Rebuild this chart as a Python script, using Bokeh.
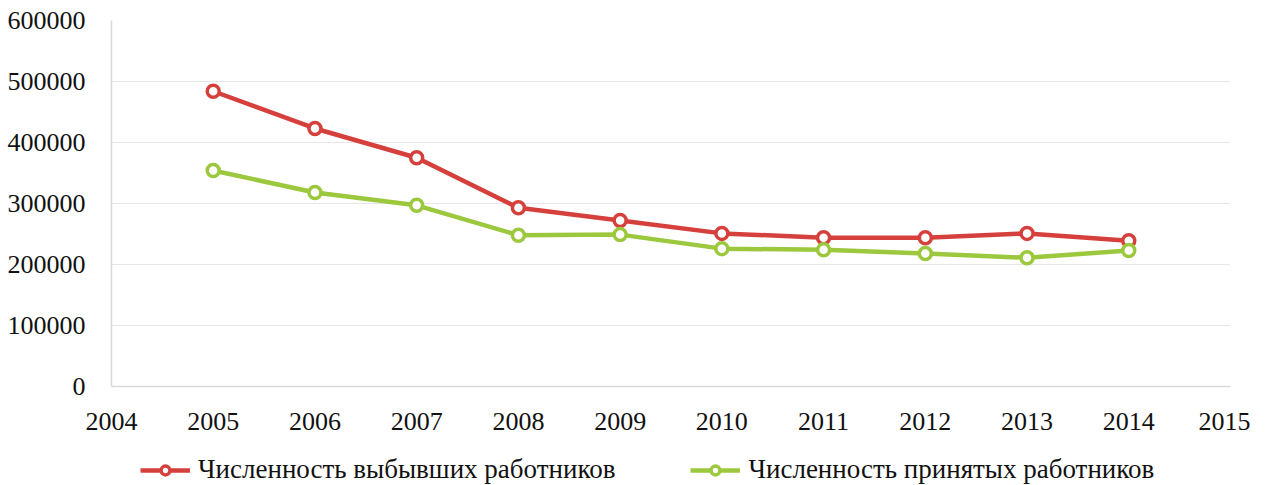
from bokeh.plotting import figure
from bokeh.layouts import column
from bokeh.models import (Range1d, FixedTicker, NumeralTickFormatter, Legend, LegendItem)
from bokeh.embed import file_html
from bokeh.resources import INLINE

years = [2005, 2006, 2007, 2008, 2009, 2010, 2011, 2012, 2013, 2014]
left_workers = [484000, 423000, 375000, 293000, 272000, 251000, 244000, 244000, 251000, 239000]
hired_workers = [354000, 318000, 297000, 248000, 249000, 226000, 224000, 218000, 211000, 223000]
series_names = ["Численность выбывших работников", "Численность принятых работников"]
x_ticks = list(range(2004, 2016))
y_ticks = [0, 100000, 200000, 300000, 400000, 500000, 600000]

RED = "#d6403c"
GREEN = "#9bc83c"
FONT = "Liberation Serif"

p = figure(width=1250, height=436, output_backend="svg", toolbar_location=None,
           x_range=Range1d(2004, 2015), y_range=Range1d(0, 600000))
p.min_border_left = 111
p.min_border_right = 20
p.min_border_top = 20
p.min_border_bottom = 50
p.outline_line_color = None


def draw(fig, ys, color):
    ln = fig.line(years, ys, line_color=color, line_width=4.5)
    mk = fig.scatter(years, ys, size=12, fill_color="white", line_color=color, line_width=3.5)
    return ln, mk


draw(p, left_workers, RED)
draw(p, hired_workers, GREEN)

p.xaxis.ticker = FixedTicker(ticks=x_ticks)
p.yaxis.ticker = FixedTicker(ticks=y_ticks)
p.yaxis.formatter = NumeralTickFormatter(format="0")
for ax in (p.xaxis[0], p.yaxis[0]):
    ax.axis_line_color = "#d9d9d9"
    ax.axis_line_width = 1.5
    ax.major_tick_line_color = None
    ax.minor_tick_line_color = None
    ax.major_label_text_font = FONT
    ax.major_label_text_font_size = "26px"
    ax.major_label_text_color = "#111111"
p.yaxis.major_label_standoff = 20
p.xaxis.major_label_standoff = 20

p.xgrid.grid_line_color = None
p.ygrid.grid_line_color = "#e6e6e6"
p.ygrid.grid_line_width = 1.2

# legend strip below the chart
lg = figure(width=1250, height=49, output_backend="svg", toolbar_location=None,
            x_axis_type=None, y_axis_type=None,
            x_range=Range1d(0, 1), y_range=Range1d(0, 1))
lg.min_border = 0
lg.outline_line_color = None
lg.xgrid.visible = False
lg.ygrid.visible = False
l1, m1 = draw(lg, left_workers, RED)
l2, m2 = draw(lg, hired_workers, GREEN)
for r in (l1, m1, l2, m2):
    r.visible = False

legend = Legend(items=[LegendItem(label=series_names[0], renderers=[l1, m1]),
                       LegendItem(label=series_names[1], renderers=[l2, m2])],
                orientation="horizontal", location=(29, 0),
                label_text_font=FONT, label_text_font_size="27px",
                label_text_color="#111111",
                glyph_width=50, glyph_height=22, spacing=75,
                border_line_color=None, background_fill_alpha=0,
                margin=0, padding=0, label_standoff=8)
lg.add_layout(legend, "center")

open("out.html", "w").write(file_html(column(p, lg, spacing=0), INLINE))
